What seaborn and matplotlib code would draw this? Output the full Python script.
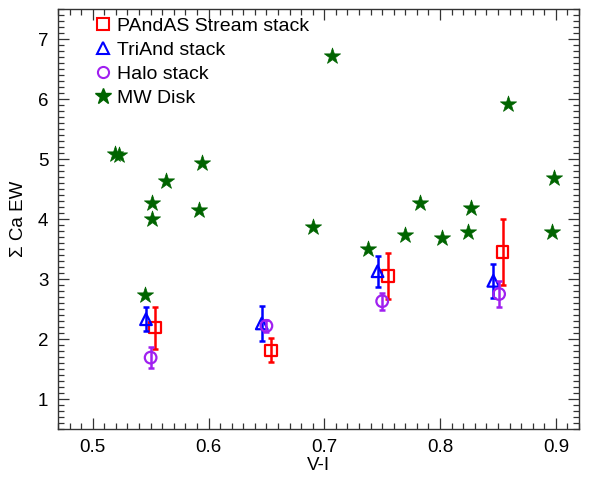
import matplotlib
matplotlib.use("Agg")
import matplotlib.pyplot as plt
from matplotlib.ticker import MultipleLocator
import seaborn as sns
import pandas as pd

# Stacked-spectrum measurements: V-I colour, summed Ca EW and 1-sigma error
pandas_vi = [0.554, 0.654, 0.755, 0.854]
pandas_ew = [2.19, 1.81, 3.05, 3.45]
pandas_err = [0.35, 0.20, 0.38, 0.55]

triand_vi = [0.546, 0.646, 0.746, 0.846]
triand_ew = [2.33, 2.26, 3.13, 2.97]
triand_err = [0.20, 0.29, 0.26, 0.28]

halo_vi = [0.550, 0.650, 0.750, 0.851]
halo_ew = [1.69, 2.22, 2.63, 2.75]
halo_err = [0.17, 0.10, 0.14, 0.22]

# Milky Way disk stars
disk_vi = [0.519, 0.523, 0.551, 0.551, 0.563, 0.594, 0.592, 0.707, 0.859, 0.898,
           0.783, 0.827, 0.690, 0.770, 0.802, 0.824, 0.897, 0.738, 0.545]
disk_ew = [5.08, 5.07, 4.27, 4.00, 4.63, 4.93, 4.15, 6.71, 5.91, 4.69,
           4.27, 4.19, 3.86, 3.73, 3.68, 3.78, 3.79, 3.50, 2.73]

sns.set_style("ticks")
plt.rcParams["font.family"] = ["Liberation Sans", "DejaVu Sans"]
plt.rcParams["text.color"] = "black"
plt.rcParams["axes.labelcolor"] = "black"

fig = plt.figure(figsize=(5.89, 4.78), dpi=100)
ax = fig.add_axes([0.0985, 0.1025, 0.8845, 0.8785])

disk = pd.DataFrame({"vi": disk_vi, "ew": disk_ew})
sns.scatterplot(data=disk, x="vi", y="ew", marker="*", s=150, color="#006400",
                edgecolor="#006400", linewidth=0.5, ax=ax, zorder=2)

series = [
    (pandas_vi, pandas_ew, pandas_err, "s", "#ff0000"),
    (triand_vi, triand_ew, triand_err, "^", "#0000ff"),
    (halo_vi, halo_ew, halo_err, "o", "#a020f0"),
]
for i, (vx, vy, ve, mk, col) in enumerate(series):
    ax.errorbar(vx, vy, yerr=ve, fmt="none", ecolor=col, elinewidth=1.8,
                capsize=2.5, capthick=1.8, zorder=3 + i)
    sns.scatterplot(x=vx, y=vy, marker=mk, s=70, facecolor="none",
                    edgecolor=col, linewidth=1.6, ax=ax, zorder=3 + i)

# Legend entries
handles = [
    plt.Line2D([], [], ls="none", marker="s", ms=8, mfc="none", mec="#ff0000", mew=1.5),
    plt.Line2D([], [], ls="none", marker="^", ms=8, mfc="none", mec="#0000ff", mew=1.5),
    plt.Line2D([], [], ls="none", marker="o", ms=8, mfc="none", mec="#a020f0", mew=1.5),
    plt.Line2D([], [], ls="none", marker="*", ms=12, mfc="#006400", mec="#006400"),
]
labels = ["PAndAS Stream stack", "TriAnd stack", "Halo stack", "MW Disk"]
leg = ax.legend(handles, labels, loc="upper left", bbox_to_anchor=(0.045, 1.012),
                frameon=False, fontsize=14, handlelength=0.8, handletextpad=0.35,
                labelspacing=0.32, borderpad=0.2)
for t in leg.get_texts():
    t.set_color("black")

ax.set_xlim(0.47, 0.92)
ax.set_ylim(0.5, 7.5)
ax.xaxis.set_major_locator(MultipleLocator(0.1))
ax.xaxis.set_minor_locator(MultipleLocator(0.01))
ax.yaxis.set_major_locator(MultipleLocator(1))
ax.yaxis.set_minor_locator(MultipleLocator(0.1))
ax.tick_params(which="both", direction="in", top=True, right=True,
               color="#333333", labelcolor="black", width=0.9, labelsize=13.5, pad=7)
ax.tick_params(which="major", length=8)
ax.tick_params(which="minor", length=4)
for sp in ax.spines.values():
    sp.set_color("#333333")
    sp.set_linewidth(1.0)

ax.set_xlabel("V-I", fontsize=13.5, labelpad=1)
ax.set_ylabel("Σ Ca EW", fontsize=13.5, labelpad=8)

fig.savefig("out.png", dpi=100)
